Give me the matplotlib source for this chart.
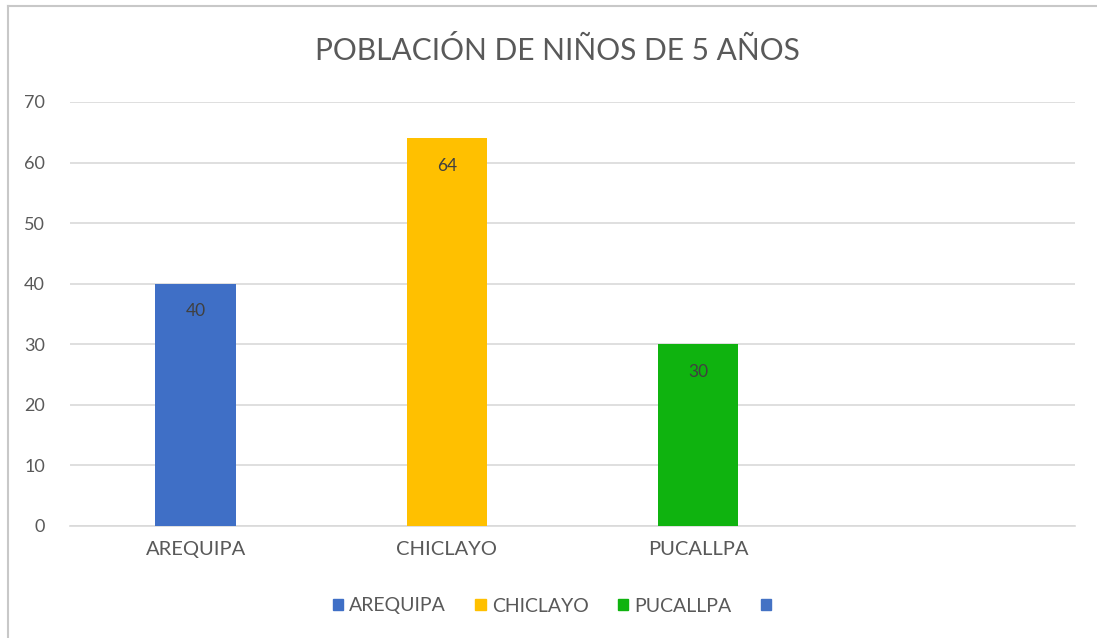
import matplotlib.pyplot as plt
import numpy as np

categorias = ['AREQUIPA', 'CHICLAYO', 'PUCALLPA', '']
valores = [40, 64, 30, 0]
colores = ['#3F6FC6', '#FFC000', '#0FB30F', '#4472C4']
titulo = 'POBLACIÓN DE NIÑOS DE 5 AÑOS'

plt.rcParams['font.family'] = ['Lato', 'DejaVu Sans']

fig = plt.figure(figsize=(10.97, 6.38), dpi=100)
ax = fig.add_axes([70 / 1097, 1 - 526 / 638, 1005 / 1097, 424 / 638])

x = np.arange(len(categorias))
barras = ax.bar(x, valores, width=0.32, color=colores, zorder=3)

for b, v in zip(barras, valores):
    if v > 0:
        ax.annotate(str(v), (b.get_x() + b.get_width() / 2, v),
                    xytext=(0, -20), textcoords='offset points',
                    ha='center', va='center', fontsize=12.5, color='#404040')

ax.set_xlim(-0.5, len(categorias) - 0.5)
ax.set_ylim(0, 70)
ax.set_yticks(range(0, 71, 10))
ax.set_xticks(x)
ax.set_xticklabels(categorias)
ax.grid(axis='y', color='#d9d9d9', linewidth=1.2, zorder=0)
for s in ['top', 'right', 'left']:
    ax.spines[s].set_visible(False)
ax.spines['bottom'].set_color('#d9d9d9')
ax.spines['bottom'].set_linewidth(1.2)
ax.tick_params(axis='y', length=0, labelsize=13, labelcolor='#595959', pad=18)
ax.tick_params(axis='x', length=0, labelsize=14.5, labelcolor='#595959', pad=11)

fig.text(557 / 1097, 1 - 50 / 638, titulo, ha='center', va='center',
         fontsize=21.5, color='#595959')

handles = [plt.Rectangle((0, 0), 1, 1, color=c) for c in colores]
fig.legend(handles, categorias, loc='center', bbox_to_anchor=(555 / 1097, 1 - 606 / 638),
           ncol=4, frameon=False, fontsize=14, labelcolor='#595959',
           handlelength=0.55, handleheight=0.55, handletextpad=0.3, columnspacing=1.5)

# borde del recuadro (solo izquierda y arriba visibles)
fig.add_artist(plt.Line2D([8 / 1097, 8 / 1097], [0, 1 - 6 / 638], transform=fig.transFigure,
                          color='#c8c8c8', linewidth=1.5))
fig.add_artist(plt.Line2D([8 / 1097, 1], [1 - 6 / 638, 1 - 6 / 638], transform=fig.transFigure,
                          color='#c8c8c8', linewidth=1.5))

fig.savefig('out.png', dpi=100)
